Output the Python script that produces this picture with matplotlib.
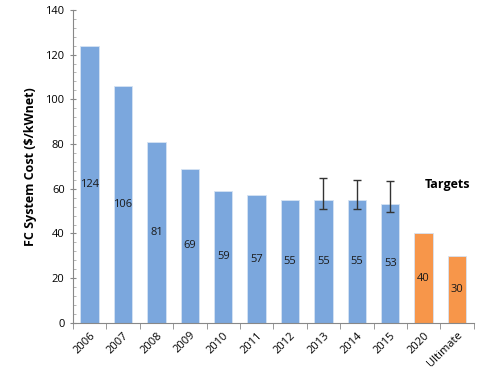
import numpy as np
import matplotlib.pyplot as plt

categorias = ["2006", "2007", "2008", "2009", "2010", "2011", "2012", "2013", "2014", "2015", "2020", "Ultimate"]
costos = [124, 106, 81, 69, 59, 57, 55, 55, 55, 53, 40, 30]
es_meta = [False] * 10 + [True, True]
# barras de error (abajo, arriba) solo 2013-2015
err_abajo = [0, 0, 0, 0, 0, 0, 0, 4, 4, 3.5, 0, 0]
err_arriba = [0, 0, 0, 0, 0, 0, 0, 10, 9, 10.5, 0, 0]

plt.rcParams['font.family'] = ['Open Sans', 'DejaVu Sans']

azul = '#7BA7DD'
naranja = '#F7964A'
colores = [naranja if m else azul for m in es_meta]

fig = plt.figure(figsize=(4.8, 3.79), dpi=100)
ax = fig.add_axes([0.152, 0.148, 0.835, 0.826])

x = np.arange(len(categorias))
ax.bar(x, costos, width=0.55, color=colores, edgecolor='#D6E3F3', linewidth=0.6, zorder=2)

con_error = [i for i in x if err_arriba[i] > 0]
ax.errorbar(x[con_error], [costos[i] for i in con_error],
            yerr=[[err_abajo[i] for i in con_error], [err_arriba[i] for i in con_error]],
            fmt='none', ecolor='#333333', elinewidth=1, capsize=3, capthick=1, zorder=3)

for xi, v in zip(x, costos):
    ax.text(xi, v / 2, str(v), ha='center', va='center', fontsize=8, color='#1a1a1a', zorder=4)

ax.text(10.7, 62, "Targets", ha='center', va='center', fontsize=9, fontweight='bold')

ax.set_xlim(-0.5, len(categorias) - 0.5)
ax.set_ylim(0, 140)
ax.set_yticks(np.arange(0, 141, 20))
ax.set_yticks(np.arange(0, 141, 4), minor=True)
ax.set_xticks(x)
ax.set_xticklabels(categorias, rotation=45, ha='right', rotation_mode='anchor', fontsize=8)
ax.set_xticks(np.arange(-0.5, len(categorias), 1), minor=True)
ax.tick_params(axis='x', which='major', length=0, pad=5)
ax.tick_params(axis='x', which='minor', length=4, color='#888888', direction='out')
ax.tick_params(axis='y', which='major', length=5, color='#888888', labelsize=8, direction='inout')
ax.tick_params(axis='y', which='minor', length=2.5, color='#aaaaaa', direction='in')

for s in ['top', 'right']:
    ax.spines[s].set_visible(False)
ax.spines['left'].set_color('#888888')
ax.spines['bottom'].set_color('#888888')

ax.set_ylabel("FC System Cost ($/kWnet)", fontsize=9, fontweight='bold', labelpad=6)

fig.savefig("out.png", dpi=100)
